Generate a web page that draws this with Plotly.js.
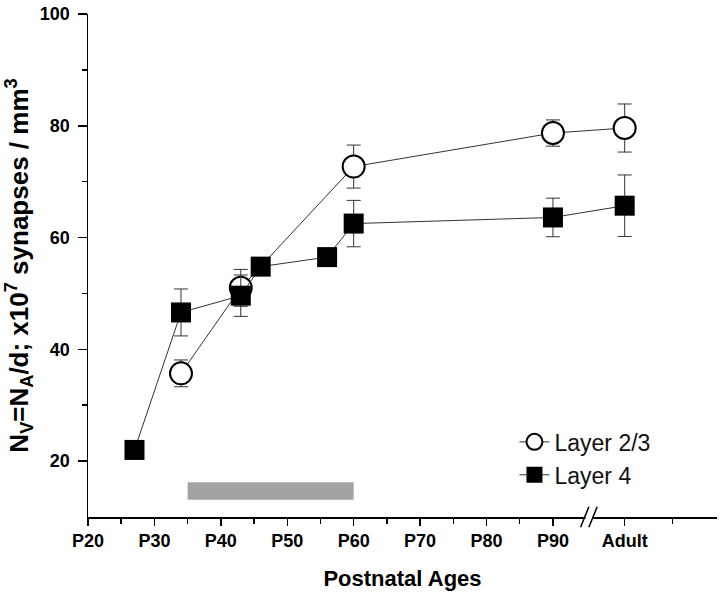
<!DOCTYPE html>
<html>
<head>
<meta charset="utf-8">
<script src="https://cdn.plot.ly/plotly-3.0.1.min.js"></script>
<style>
  html, body { margin: 0; padding: 0; background: #fff; }
  #chart { width: 720px; height: 593px; }
</style>
</head>
<body>
<div id="chart"></div>
<script>
// x position used for the "Adult" group (after the axis break)
var adultPos = 100.8;

// Layer 2/3 (open circles)
var layer23Days = [34, 43, 60, 90, adultPos];
var layer23Values = [35.7, 51.0, 72.7, 78.7, 79.6];
var layer23Err = [2.4, 3.3, 3.85, 2.35, 4.3];

// Layer 4 (filled squares)
var layer4Days = [27, 34, 43, 46, 56, 60, 90, adultPos];
var layer4Values = [22.0, 46.6, 49.6, 54.8, 56.5, 62.5, 63.6, 65.7];
var layer4Err = [1.0, 4.2, 3.7, 1.0, 1.0, 4.15, 3.45, 5.5];

// grey bar under the axis: P35 .. P60, 13.1 .. 16.2
var periodStart = 35;
var periodEnd = 60;
var periodLow = 13.1;
var periodHigh = 16.2;

var tickVals = [20, 30, 40, 50, 60, 70, 80, 90, adultPos];
var tickLabels = ["P20", "P30", "P40", "P50", "P60", "P70", "P80", "P90", "Adult"];
var minorTickVals = [25, 35, 45, 55, 65, 75, 85, 108];

var FONT = "Liberation Sans, Arial, sans-serif";

var period = {
  type: "bar",
  orientation: "h",
  y: [(periodLow + periodHigh) / 2],
  x: [periodEnd - periodStart],
  base: [periodStart],
  width: [periodHigh - periodLow],
  marker: { color: "#a3a3a3", line: { width: 0 } },
  hoverinfo: "skip",
  showlegend: false
};

var layer23 = {
  x: layer23Days,
  y: layer23Values,
  error_y: { type: "data", array: layer23Err, visible: true, color: "#333", thickness: 1, width: 7 },
  mode: "lines+markers",
  name: "Layer 2/3",
  line: { color: "#333", width: 1 },
  marker: { symbol: "circle", size: 22, color: "#fff", line: { color: "#000", width: 2 } },
  cliponaxis: false
};

var layer4 = {
  x: layer4Days,
  y: layer4Values,
  error_y: { type: "data", array: layer4Err, visible: true, color: "#333", thickness: 1, width: 7 },
  mode: "lines+markers",
  name: "Layer 4",
  line: { color: "#333", width: 1 },
  marker: { symbol: "square", size: 20, color: "#000", line: { color: "#000", width: 0 } },
  cliponaxis: false
};

// axis break "//" drawn as decoration
var breakShapes = [
  { type: "rect", xref: "x", yref: "paper", x0: 94.9, x1: 95.9, y0: -0.006, y1: 0.006,
    fillcolor: "#fff", line: { width: 0 }, layer: "above" },
  { type: "line", xref: "x", yref: "paper", x0: 94.16, x1: 95.41, y0: -0.0205, y1: 0.0205,
    line: { color: "#000", width: 1.5 }, layer: "above" },
  { type: "line", xref: "x", yref: "paper", x0: 95.41, x1: 96.67, y0: -0.0205, y1: 0.0205,
    line: { color: "#000", width: 1.5 }, layer: "above" }
];

var layout = {
  width: 720,
  height: 593,
  margin: { l: 88, r: 3, t: 14, b: 76 },
  paper_bgcolor: "#fff",
  plot_bgcolor: "#fff",
  font: { family: FONT, color: "#000" },
  showlegend: true,
  legend: {
    x: 0.678, y: 0.192, xanchor: "left", yanchor: "top",
    font: { family: FONT, size: 23, color: "#111" },
    bgcolor: "rgba(0,0,0,0)", borderwidth: 0, tracegroupgap: 0
  },
  xaxis: {
    range: [20, 114.7],
    tickmode: "array",
    tickvals: tickVals,
    ticktext: tickLabels,
    ticks: "outside", ticklen: 7, tickwidth: 1.5, tickcolor: "#000",
    minor: { tickmode: "array", tickvals: minorTickVals, ticks: "outside", ticklen: 5, tickwidth: 1.5, tickcolor: "#000" },
    showline: true, linecolor: "#000", linewidth: 1.5,
    showgrid: false, zeroline: false,
    tickfont: { family: FONT, size: 18, weight: "bold" },
    title: { text: "Postnatal Ages", font: { family: FONT, size: 22, weight: "bold" }, standoff: 20 }
  },
  yaxis: {
    range: [10, 100],
    tickmode: "array",
    tickvals: [20, 40, 60, 80, 100],
    ticks: "outside", ticklen: 9, tickwidth: 1.5, tickcolor: "#000",
    minor: { tickmode: "array", tickvals: [30, 50, 70, 90], ticks: "outside", ticklen: 5, tickwidth: 1.5, tickcolor: "#000" },
    ticklabelstandoff: 4,
    showline: true, linecolor: "#000", linewidth: 1.5,
    showgrid: false, zeroline: false,
    tickfont: { family: FONT, size: 18, weight: "bold" },
    title: {
      text: "N<sub>V</sub>=N<sub>A</sub>/d; x10<sup>7</sup> synapses / mm<sup>3</sup>",
      font: { family: FONT, size: 26, weight: "bold" },
      standoff: 4
    }
  },
  shapes: breakShapes
};

Plotly.newPlot("chart", [period, layer23, layer4], layout, { displayModeBar: false, staticPlot: true });
</script>
</body>
</html>
